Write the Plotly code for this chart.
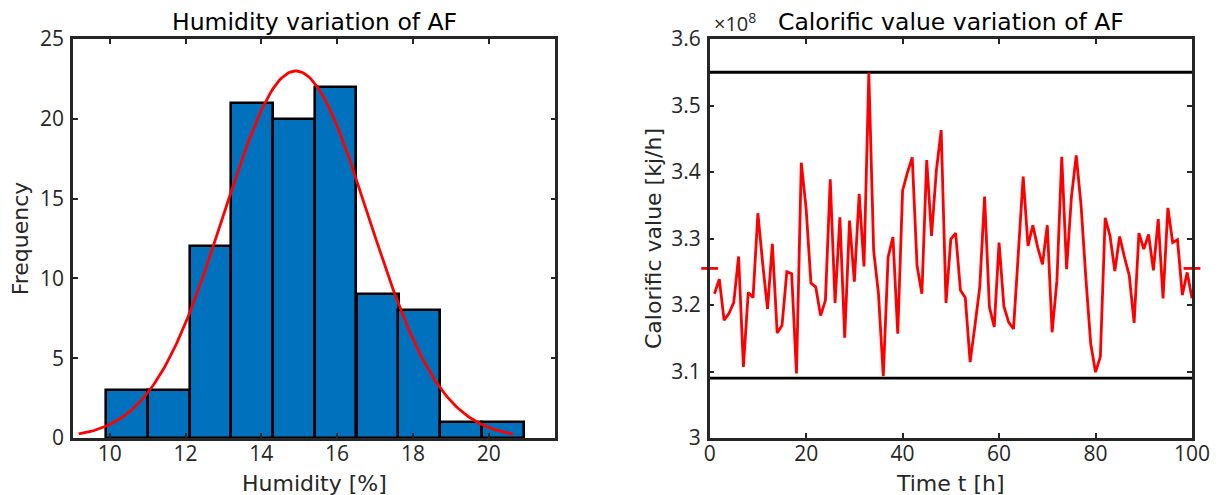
import numpy as np
import plotly.graph_objects as go
from plotly.subplots import make_subplots

# --- left panel: humidity histogram + fitted normal (histfit style) ---
hum_bin_centers = [10.46, 11.56, 12.66, 13.76, 14.86, 15.96, 17.07, 18.17, 19.27, 20.37]
hum_counts = [3, 3, 12, 21, 20, 22, 9, 8, 1, 1]
hum_bin_width = 1.101
hum_mu, hum_sigma = 14.91, 1.91          # fitted normal parameters

# --- right panel: calorific value per hour (x 1e8 kj/h) ---
time_h = list(range(1, 101))
calorific = [
    3.217, 3.239, 3.177, 3.187, 3.204, 3.273, 3.107, 3.219, 3.211, 3.338,
    3.262, 3.194, 3.292, 3.158, 3.169, 3.250, 3.247, 3.097, 3.414, 3.345,
    3.233, 3.227, 3.184, 3.207, 3.389, 3.203, 3.332, 3.151, 3.327, 3.235,
    3.367, 3.258, 3.549, 3.282, 3.217, 3.093, 3.272, 3.302, 3.157, 3.372,
    3.399, 3.422, 3.259, 3.217, 3.418, 3.304, 3.402, 3.463, 3.203, 3.299,
    3.308, 3.222, 3.211, 3.114, 3.169, 3.227, 3.363, 3.197, 3.167, 3.294,
    3.198, 3.174, 3.164, 3.280, 3.393, 3.289, 3.320, 3.287, 3.261, 3.320,
    3.159, 3.237, 3.423, 3.254, 3.362, 3.425, 3.350, 3.240, 3.142, 3.099,
    3.122, 3.331, 3.304, 3.251, 3.303, 3.272, 3.244, 3.173, 3.308, 3.284,
    3.306, 3.252, 3.329, 3.210, 3.346, 3.294, 3.298, 3.215, 3.249, 3.210,
]
cal_upper, cal_lower = 3.55, 3.09
cal_mean = 3.255

AXIS_COL = "#262626"
TICK_FONT = "Open Sans, Noto Sans, sans-serif"
TEXT_FONT = "DejaVu Sans, Verdana, sans-serif"

fig = make_subplots(rows=1, cols=2, horizontal_spacing=0.1379)

fig.add_trace(go.Bar(
    x=hum_bin_centers, y=hum_counts, width=hum_bin_width,
    marker=dict(color="#0072BD", line=dict(color="black", width=2.6)),
    showlegend=False,
), row=1, col=1)

xs = np.linspace(hum_mu - 3 * hum_sigma, hum_mu + 3 * hum_sigma, 200)
pdf = (sum(hum_counts) * hum_bin_width / (hum_sigma * np.sqrt(2 * np.pi))
       * np.exp(-0.5 * ((xs - hum_mu) / hum_sigma) ** 2))
fig.add_trace(go.Scatter(x=xs, y=pdf, mode="lines",
                         line=dict(color="#FF0000", width=2.8),
                         showlegend=False), row=1, col=1)

# limit lines
for lim in (cal_upper, cal_lower):
    fig.add_trace(go.Scatter(x=[0, 100], y=[lim, lim], mode="lines",
                             line=dict(color="black", width=2.8),
                             showlegend=False), row=1, col=2)

fig.add_trace(go.Scatter(x=time_h, y=calorific, mode="lines",
                         line=dict(color="#FF0000", width=2.8),
                         showlegend=False), row=1, col=2)

# mean marker stubs at the plot edges
fig.add_trace(go.Scatter(x=[0, 100], y=[cal_mean, cal_mean], mode="markers",
                         marker=dict(symbol="line-ew", size=12,
                                     line=dict(color="#FF0000", width=2.8)),
                         cliponaxis=False, showlegend=False), row=1, col=2)

axis_common = dict(
    showline=True, linecolor=AXIS_COL, linewidth=2.5, mirror="ticks",
    ticks="inside", ticklen=5, tickwidth=2, tickcolor=AXIS_COL,
    showgrid=False, zeroline=False,
    tickfont=dict(size=21, color=AXIS_COL, family=TICK_FONT),
    title_font=dict(size=22, color=AXIS_COL, family=TEXT_FONT),
)

fig.update_xaxes(axis_common)
fig.update_yaxes(axis_common)

fig.update_xaxes(range=[9.03, 21.76], tickvals=[10, 12, 14, 16, 18, 20],
                 ticklabelstandoff=-5, row=1, col=1)
fig.update_yaxes(range=[0, 25], dtick=5, title_text="Frequency",
                 title_standoff=6, ticklabelstandoff=2, row=1, col=1)
fig.update_xaxes(range=[0, 100], dtick=20, ticklabelstandoff=-5, row=1, col=2)
fig.update_yaxes(range=[3.0, 3.6], dtick=0.1, tickformat=".1~f",
                 title_text="Calorific value [kj/h]", title_standoff=4,
                 ticklabelstandoff=2, row=1, col=2)

label_font = dict(size=22, color=AXIS_COL, family=TEXT_FONT)
title_font = dict(size=23.5, color="black", family=TEXT_FONT)

fig.update_layout(
    width=1222, height=495,
    margin=dict(l=73, r=25, t=39, b=57),
    plot_bgcolor="white", paper_bgcolor="white",
    font=dict(family=TEXT_FONT, color=AXIS_COL),
    bargap=0,
    annotations=[
        dict(text="Humidity variation of AF", xref="x domain", yref="y domain",
             x=0.5, y=1, yanchor="bottom", yshift=1, showarrow=False,
             font=title_font),
        dict(text="Calorific value variation of AF", xref="x2 domain", yref="y2 domain",
             x=0.5, y=1, yanchor="bottom", yshift=1, showarrow=False,
             font=title_font),
        dict(text="Humidity [%]", xref="x domain", yref="y domain",
             x=0.5, y=0, yanchor="middle", yshift=-45, showarrow=False,
             font=label_font),
        dict(text="Time t [h]", xref="x2 domain", yref="y2 domain",
             x=0.5, y=0, yanchor="middle", yshift=-45, showarrow=False,
             font=label_font),
        dict(text="×10<sup>8</sup>", xref="x2 domain", yref="y2 domain",
             x=0, y=1, xanchor="left", yanchor="bottom", xshift=2, yshift=0,
             showarrow=False, font=dict(size=20, color=AXIS_COL, family=TICK_FONT)),
    ],
)

# drop the default 8px page margin so the figure sits at the window origin
fig.write_html("out.html",
               config={"displayModeBar": False},
               post_script="document.body.style.margin='0';document.body.style.overflow='hidden';")
